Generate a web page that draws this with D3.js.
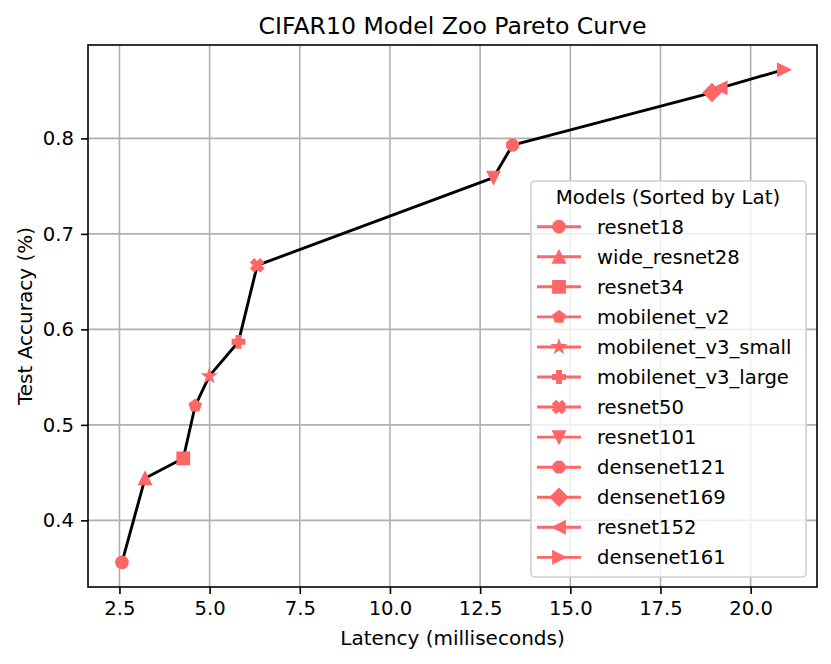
<!DOCTYPE html>
<html>
<head>
<meta charset="utf-8">
<script src="https://cdn.jsdelivr.net/npm/d3@7"></script>
<style>
  body { margin: 0; background: #fff; }
  svg { font-family: "DejaVu Sans", sans-serif; }
</style>
</head>
<body>
<svg id="chart" width="831" height="664"></svg>
<script>
// models sorted by latency
const models = ["resnet18", "wide_resnet28", "resnet34", "mobilenet_v2", "mobilenet_v3_small",
  "mobilenet_v3_large", "resnet50", "resnet101", "densenet121", "densenet169", "resnet152", "densenet161"];
const latency = [2.57, 3.21, 4.27, 4.60, 4.99, 5.80, 6.32, 12.87, 13.40, 18.93, 19.17, 20.92];
const accuracy = [0.356, 0.444, 0.465, 0.520, 0.551, 0.587, 0.667, 0.759, 0.793, 0.848, 0.853, 0.872];
const markers = ["o", "^", "s", "p", "*", "P", "X", "v", "8", "D", "<", ">"];
const xTicks = [2.5, 5.0, 7.5, 10.0, 12.5, 15.0, 17.5, 20.0];
const yTicks = [0.4, 0.5, 0.6, 0.7, 0.8];

const svg = d3.select("#chart");
const margin = { left: 88, right: 14, top: 45, bottom: 77 };
const W = 831, H = 664;
const red = "#ff6666";
const ms = 11.75;

const x = d3.scaleLinear().domain([1.628, 21.84]).range([margin.left, W - margin.right]);
const y = d3.scaleLinear().domain([0.3302, 0.8978]).range([H - margin.bottom, margin.top]);

function poly(pts) {
  return "M" + pts.map(p => p[0].toFixed(2) + "," + p[1].toFixed(2)).join("L") + "Z";
}
function regular(n, r, rot) {
  const pts = [];
  for (let k = 0; k < n; k++) {
    const a = Math.PI / 2 + 2 * Math.PI * k / n + rot;
    pts.push([r * Math.cos(a), -r * Math.sin(a)]);
  }
  return pts;
}
function markerPath(t, s) {
  const r = s / 2;
  switch (t) {
    case "o": { const p = d3.path(); p.arc(0, 0, r, 0, 2 * Math.PI); p.closePath(); return p.toString(); }
    case "^": return poly([[0, -r], [-r, r], [r, r]]);
    case "v": return poly([[0, r], [-r, -r], [r, -r]]);
    case "<": return poly([[-r, 0], [r, -r], [r, r]]);
    case ">": return poly([[r, 0], [-r, -r], [-r, r]]);
    case "s": return poly([[-r, -r], [r, -r], [r, r], [-r, r]]);
    case "D": { const d = s / Math.SQRT2; return poly([[0, -d], [d, 0], [0, d], [-d, 0]]); }
    case "p": return poly(regular(5, r, 0));
    case "8": return poly(regular(8, r, Math.PI / 8));
    case "*": {
      const pts = [];
      for (let k = 0; k < 10; k++) {
        const a = Math.PI / 2 + Math.PI * k / 5;
        const rr = k % 2 === 0 ? r : r * 0.381966;
        pts.push([rr * Math.cos(a), -rr * Math.sin(a)]);
      }
      return poly(pts);
    }
    case "P": return poly([[-1, -3], [1, -3], [1, -1], [3, -1], [3, 1], [1, 1], [1, 3], [-1, 3], [-1, 1], [-3, 1], [-3, -1], [-1, -1]]
      .map(p => [p[0] * s / 6, p[1] * s / 6]));
    case "X": return poly([[-1, -2], [0, -1], [1, -2], [2, -1], [1, 0], [2, 1], [1, 2], [0, 1], [-1, 2], [-2, 1], [-1, 0], [-2, -1]]
      .map(p => [p[0] * s / 4, p[1] * s / 4]));
  }
}

// grid
const grid = svg.append("g");
grid.selectAll(".gx").data(xTicks).enter().append("line")
  .attr("x1", d => x(d)).attr("x2", d => x(d))
  .attr("y1", margin.top).attr("y2", H - margin.bottom)
  .attr("stroke", "#b0b0b0").attr("stroke-width", 1.6);
grid.selectAll(".gy").data(yTicks).enter().append("line")
  .attr("y1", d => y(d)).attr("y2", d => y(d))
  .attr("x1", margin.left).attr("x2", W - margin.right)
  .attr("stroke", "#b0b0b0").attr("stroke-width", 1.6);

// axes
const xAxis = svg.append("g").attr("transform", "translate(0," + (H - margin.bottom) + ")")
  .call(d3.axisBottom(x).tickValues(xTicks).tickFormat(d3.format(".1f")).tickSize(7).tickPadding(7));
const yAxis = svg.append("g").attr("transform", "translate(" + margin.left + ",0)")
  .call(d3.axisLeft(y).tickValues(yTicks).tickFormat(d3.format(".1f")).tickSize(7).tickPadding(7));
[xAxis, yAxis].forEach(a => {
  a.select(".domain").remove();
  a.selectAll(".tick line").attr("stroke", "#000").attr("stroke-width", 1.6);
  a.selectAll(".tick text").attr("fill", "#000").style("font-size", "19.6px").style("font-family", "DejaVu Sans");
});

// frame
svg.append("rect")
  .attr("x", margin.left).attr("y", margin.top)
  .attr("width", W - margin.left - margin.right).attr("height", H - margin.top - margin.bottom)
  .attr("fill", "none").attr("stroke", "#000").attr("stroke-width", 1.6);

// curve
const line = d3.line().x((d, i) => x(latency[i])).y((d, i) => y(accuracy[i]));
svg.append("path").datum(models).attr("d", line)
  .attr("fill", "none").attr("stroke", "#000").attr("stroke-width", 2.9).attr("stroke-linejoin", "round");

svg.selectAll(".pt").data(models).enter().append("path")
  .attr("transform", (d, i) => "translate(" + x(latency[i]) + "," + y(accuracy[i]) + ")")
  .attr("d", (d, i) => markerPath(markers[i], ms))
  .attr("fill", red).attr("stroke", red).attr("stroke-width", 2).attr("stroke-linejoin", "miter");

// labels
svg.append("text").attr("x", (margin.left + W - margin.right) / 2).attr("y", 34)
  .attr("text-anchor", "middle").style("font-size", "23.6px").text("CIFAR10 Model Zoo Pareto Curve");
svg.append("text").attr("x", (margin.left + W - margin.right) / 2).attr("y", 645)
  .attr("text-anchor", "middle").style("font-size", "20px").text("Latency (milliseconds)");
svg.append("text").attr("transform", "translate(31.5," + ((margin.top + H - margin.bottom) / 2) + ") rotate(-90)")
  .attr("text-anchor", "middle").style("font-size", "20px").text("Test Accuracy (%)");

// legend
const lg = svg.append("g");
lg.append("rect").attr("x", 531).attr("y", 181).attr("width", 275).attr("height", 396)
  .attr("rx", 4).attr("fill", "#fff").attr("fill-opacity", 0.8)
  .attr("stroke", "#d0d0d0").attr("stroke-width", 1.6);
lg.append("text").attr("x", 668).attr("y", 197).attr("dy", "0.36em")
  .attr("text-anchor", "middle").style("font-size", "19.8px").text("Models (Sorted by Lat)");
const rows = lg.selectAll(".row").data(models).enter().append("g")
  .attr("transform", (d, i) => "translate(0," + (226.7 + i * 30.06) + ")");
rows.append("line").attr("x1", 537).attr("x2", 581).attr("stroke", red).attr("stroke-width", 2.9);
rows.append("path").attr("transform", "translate(559,0)")
  .attr("d", (d, i) => markerPath(markers[i], ms))
  .attr("fill", red).attr("stroke", red).attr("stroke-width", 2);
rows.append("text").attr("x", 597).attr("dy", "0.36em").style("font-size", "19.6px").text(d => d);
</script>
</body>
</html>
